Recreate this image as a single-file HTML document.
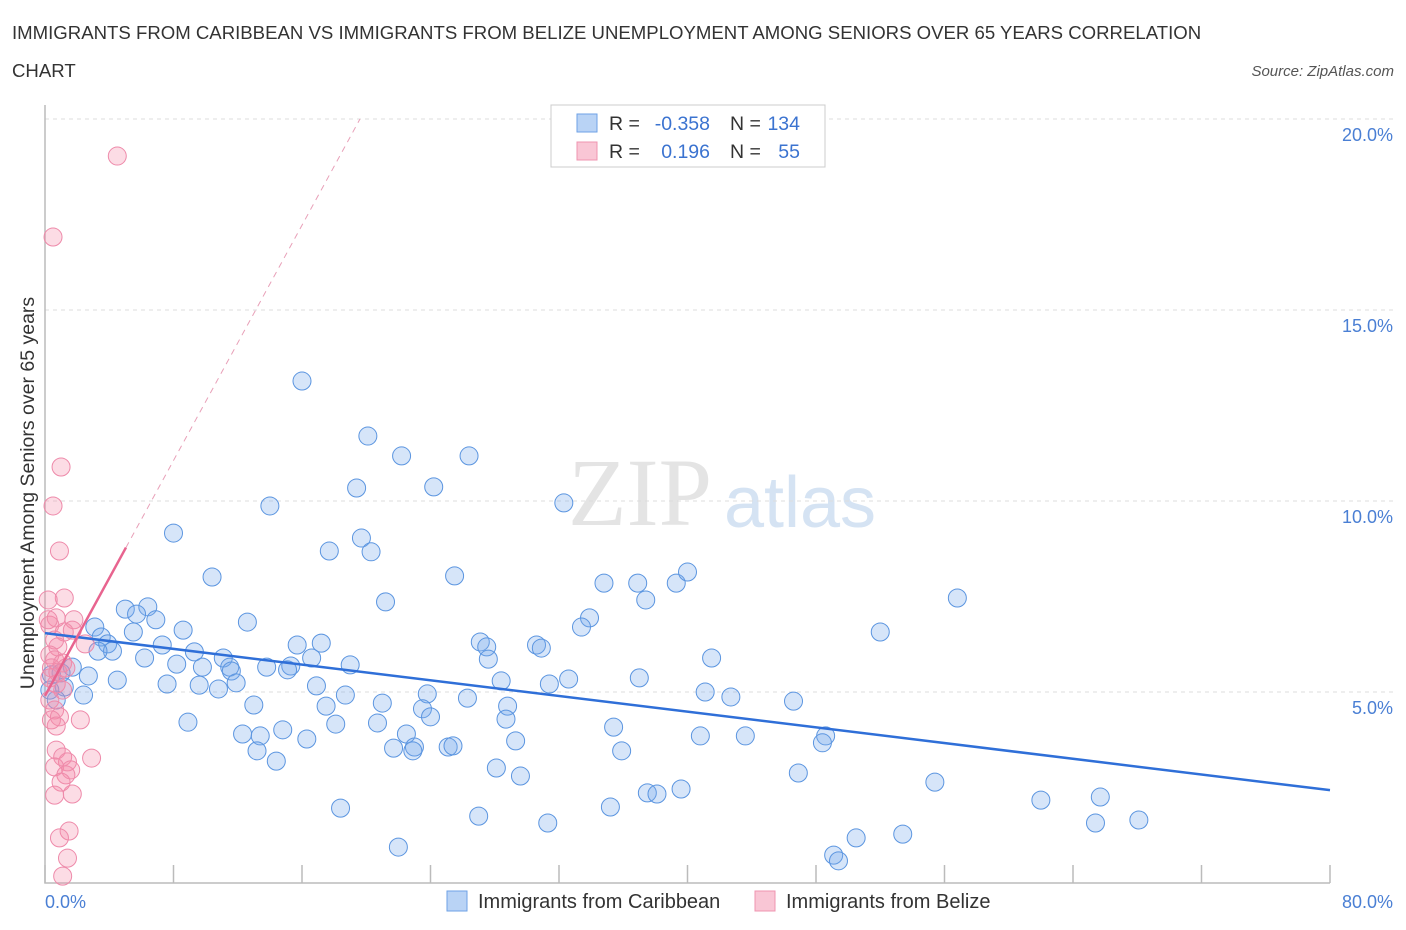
<!DOCTYPE html>
<html><head><meta charset="utf-8"><style>
body{margin:0;background:#fff;font-family:"Liberation Sans",sans-serif;}
svg{display:block}
</style></head><body>
<svg width="1406" height="930">
<text x="12" y="39" font-size="18.6" fill="#333">IMMIGRANTS FROM CARIBBEAN VS IMMIGRANTS FROM BELIZE UNEMPLOYMENT AMONG SENIORS OVER 65 YEARS CORRELATION</text>
<text x="12" y="77" font-size="18.6" fill="#333">CHART</text>
<text x="1394" y="76" font-size="15" fill="#555" font-style="italic" text-anchor="end">Source: ZipAtlas.com</text>
<text x="640" y="525" font-size="96" fill="#e4e4e4" font-family="Liberation Serif,serif" text-anchor="middle">ZIP</text>
<text x="800" y="527" font-size="72" fill="#d5e3f3" text-anchor="middle">atlas</text>
<g id="grid"></g>
<g id="pts"></g>
<g id="lines"></g>
<text transform="translate(34,493) rotate(-90)" font-size="19.5" fill="#333" text-anchor="middle">Unemployment Among Seniors over 65 years</text>
<text x="45" y="908" font-size="18" fill="#4a7fd4">0.0%</text>
<text x="1393" y="908" font-size="18" fill="#4a7fd4" text-anchor="end">80.0%</text>
<g>
<rect x="551" y="105" width="274" height="62" fill="#fff" stroke="#ccc"/>
<rect x="577" y="114" width="20" height="18" fill="#b9d3f5" stroke="#6ea2e6"/>
<rect x="577" y="142" width="20" height="18" fill="#f9c6d5" stroke="#ef94b0"/>
<text x="609" y="130" font-size="19.5" fill="#333">R =</text>
<text x="710" y="130" font-size="19.5" fill="#3b73d0" text-anchor="end">-0.358</text>
<text x="730" y="130" font-size="19.5" fill="#333">N =</text>
<text x="800" y="130" font-size="19.5" fill="#3b73d0" text-anchor="end">134</text>
<text x="609" y="158" font-size="19.5" fill="#333">R =</text>
<text x="710" y="158" font-size="19.5" fill="#3b73d0" text-anchor="end">0.196</text>
<text x="730" y="158" font-size="19.5" fill="#333">N =</text>
<text x="800" y="158" font-size="19.5" fill="#3b73d0" text-anchor="end">55</text>
</g>
<g>
<rect x="447" y="891" width="20" height="20" fill="#b9d3f5" stroke="#6ea2e6"/>
<text x="478" y="908" font-size="20" fill="#333">Immigrants from Caribbean</text>
<rect x="755" y="891" width="20" height="20" fill="#f9c6d5" stroke="#ef94b0"/>
<text x="786" y="908" font-size="20" fill="#333">Immigrants from Belize</text>
</g>
</svg>
<script>
const yTicks=[5,10,15,20];
const yTickLabels=["5.0%","10.0%","15.0%","20.0%"];
const xTicks=[0,8,16,24,32,40,48,56,64,72,80];
const blueX=[16.0,20.1,22.2,26.4,19.4,24.2,32.3,14.0,8.0,19.7,17.7,20.3,10.4,25.5,34.8,36.9,39.3,40.0,37.4,56.8,21.2,5.0,6.4,5.7,6.9,12.6,33.9,33.4,52.0,3.1,5.5,8.6,3.5,3.9,4.2,7.3,15.7,17.2,27.1,30.6,30.9,27.5,9.3,6.2,16.6,11.1,27.6,41.5,8.2,9.8,11.5,13.8,15.3,19.0,15.1,11.6,1.7,2.7,4.5,1.0,11.9,7.6,9.6,10.8,16.9,28.4,32.6,31.4,37.0,2.4,18.7,23.8,26.3,41.1,42.7,46.6,13.0,17.5,21.0,23.5,28.8,24.0,28.7,8.9,18.1,20.7,35.4,14.8,22.5,12.3,13.4,16.3,40.8,43.6,48.6,29.3,48.4,21.7,23.0,25.1,25.4,22.9,13.2,35.9,14.4,28.1,29.6,46.9,55.4,39.6,37.5,38.1,62.0,65.7,18.4,35.2,27.0,31.3,65.4,68.1,53.4,50.5,22.0,49.1,49.4,0.4,1.2,0.7,0.3,3.3];
const blueY=[13.14,11.70,11.18,11.18,10.34,10.37,9.95,9.87,9.16,9.03,8.69,8.67,8.01,8.04,7.85,7.85,7.85,8.14,7.41,7.46,7.36,7.17,7.23,7.04,6.89,6.83,6.94,6.70,6.57,6.70,6.57,6.62,6.44,6.26,6.07,6.23,6.23,6.28,6.31,6.23,6.15,6.18,6.05,5.89,5.89,5.89,5.86,5.89,5.73,5.65,5.65,5.65,5.68,5.71,5.58,5.55,5.65,5.42,5.31,5.50,5.24,5.21,5.18,5.08,5.16,5.29,5.34,5.21,5.37,4.92,4.92,4.95,4.84,5.00,4.87,4.76,4.66,4.63,4.71,4.56,4.63,4.35,4.29,4.21,4.16,4.19,4.08,4.01,3.90,3.90,3.85,3.77,3.85,3.85,3.85,3.72,3.67,3.53,3.56,3.56,3.59,3.46,3.46,3.46,3.19,3.01,2.80,2.88,2.64,2.46,2.36,2.33,2.17,2.25,1.96,1.99,1.75,1.57,1.57,1.65,1.28,1.18,0.94,0.73,0.58,5.45,5.13,4.79,5.05,6.07];
const pinkX=[4.5,0.5,1.0,0.5,0.9,1.2,0.2,1.8,0.7,0.3,1.2,1.7,2.5,0.6,0.8,0.3,0.6,1.1,0.4,0.8,1.3,0.3,0.7,1.1,0.3,0.6,0.9,0.4,0.7,2.2,0.7,1.1,1.4,2.9,0.6,1.6,1.3,1.0,0.6,1.7,1.5,0.9,1.4,1.1,0.2];
const pinkY=[19.03,16.91,10.89,9.87,8.69,7.46,7.41,6.89,6.94,6.75,6.57,6.62,6.26,6.36,6.18,5.97,5.84,5.76,5.63,5.52,5.63,5.37,5.21,5.05,4.79,4.53,4.35,4.27,4.11,4.27,3.48,3.30,3.17,3.27,3.04,2.96,2.83,2.64,2.30,2.33,1.36,1.18,0.65,0.18,6.89];
const blueLine=[6.54,2.43]; // y at x=0 and x=80
const pinkLine=[4.9,0.77];  // intercept, slope
const X=v=>45+v*(1330-45)/80, Y=v=>883-v*191/5;
const NS="http://www.w3.org/2000/svg";
function mk(t,a,p){const e=document.createElementNS(NS,t);for(const k in a)e.setAttribute(k,a[k]);p.appendChild(e);return e;}
const g=document.getElementById('grid');
yTicks.forEach((t,i)=>{
 const l=mk('line',{x1:45,x2:1394,y1:Y(t),y2:Y(t),stroke:'#ddd','stroke-dasharray':'4,4'},g);
 
 
 const tx=mk('text',{x:1393,y:Y(t)+22,'font-size':18,fill:'#4a7fd4','text-anchor':'end'},g);
 tx.textContent=yTickLabels[i];
 
 
});
const ax=mk('path',{d:'M45 105V883H1330',fill:'none',stroke:'#bbb','stroke-width':1.5},g);


xTicks.forEach(t=>{
 const l=mk('line',{x1:X(t),x2:X(t),y1:865,y2:883,stroke:'#bbb','stroke-width':1.5},g);
 
 
});
const P=document.getElementById('pts');
blueX.forEach((x,i)=>{
 const c=mk('circle',{cx:X(x),cy:Y(blueY[i]),r:9,fill:'rgba(120,170,235,0.3)',stroke:'#5b95e0','stroke-width':1},P);
 
 
});
pinkX.forEach((x,i)=>{
 const c=mk('circle',{cx:X(x),cy:Y(pinkY[i]),r:9,fill:'rgba(245,140,170,0.3)',stroke:'#ee8aaa','stroke-width':1},P);
 
 
});
const L=document.getElementById('lines');
const bl=mk('line',{x1:X(0),y1:Y(blueLine[0]),x2:X(80),y2:Y(blueLine[1]),stroke:'#2f6fd8','stroke-width':2.5},L);


const xe=(20-pinkLine[0])/pinkLine[1];
const pd=mk('line',{x1:X(5.04),y1:Y(pinkLine[0]+pinkLine[1]*5.04),x2:X(xe),y2:Y(20),stroke:'#e8a0b8','stroke-width':1,'stroke-dasharray':'6,5'},L);


const ps=mk('line',{x1:X(0),y1:Y(pinkLine[0]),x2:X(5.04),y2:Y(pinkLine[0]+pinkLine[1]*5.04),stroke:'#e8648f','stroke-width':2.5},L);


</script>
</body></html>
